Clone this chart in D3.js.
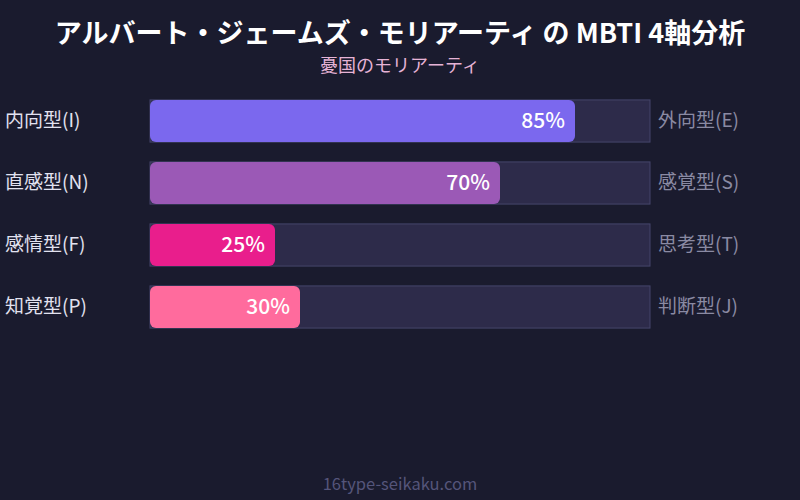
<!DOCTYPE html>
<html><head><meta charset="utf-8">
<script src="https://cdn.jsdelivr.net/npm/d3@7"></script>
<style>html,body{margin:0;padding:0;background:#1a1b2e;}svg{display:block;font-family:"Noto Sans CJK JP","Noto Sans",sans-serif;}</style>
</head><body>
<svg id="chart" width="800" height="500"></svg>
<script>
const leftLabels = ["内向型(I)", "直感型(N)", "感情型(F)", "知覚型(P)"];
const rightLabels = ["外向型(E)", "感覚型(S)", "思考型(T)", "判断型(J)"];
const values = [85, 70, 25, 30];
const colors = ["#7b68ee", "#9b59b6", "#e91e8c", "#ff6b9d"];
const title = "アルバート・ジェームズ・モリアーティ の MBTI 4軸分析";
const subtitle = "憂国のモリアーティ";
const footer = "16type-seikaku.com";

const svg = d3.select("#chart");
svg.append("rect").attr("width", 800).attr("height", 500).attr("fill", "#1a1b2e");

const x = d3.scaleLinear().domain([0, 100]).range([150, 650]);
const y = d3.scaleBand().domain(d3.range(leftLabels.length)).range([90, 338]).paddingInner(0.32).paddingOuter(0.16);

svg.append("text").attr("x", 400).attr("y", 43).attr("text-anchor", "middle")
  .attr("fill", "#ffffff").attr("font-size", 27).attr("font-weight", "bold").text(title);
svg.append("text").attr("x", 400).attr("y", 72).attr("text-anchor", "middle")
  .attr("fill", "#e6b3d6").attr("font-size", 18).text(subtitle);

const rows = svg.selectAll("g.row").data(values).join("g").attr("class", "row");

rows.append("rect")
  .attr("x", x(0)).attr("y", (d, i) => y(i))
  .attr("width", x(100) - x(0)).attr("height", y.bandwidth())
  .attr("fill", "#2d2b4a").attr("stroke", "#45456a").attr("stroke-width", 1);

rows.append("rect")
  .attr("x", x(0)).attr("y", (d, i) => y(i))
  .attr("width", d => x(d) - x(0)).attr("height", y.bandwidth())
  .attr("rx", 6).attr("ry", 6)
  .attr("fill", (d, i) => colors[i]);

rows.append("text")
  .attr("x", d => x(d) - 10).attr("y", (d, i) => y(i) + y.bandwidth() / 2)
  .attr("dy", "0.32em").attr("text-anchor", "end")
  .attr("fill", "#ffffff").attr("font-size", 21).attr("font-weight", 500)
  .text(d => d + "%");

rows.append("text")
  .attr("x", 5).attr("y", (d, i) => y(i) + y.bandwidth() / 2)
  .attr("dy", "0.3em").attr("fill", "#e2e2f0").attr("font-size", 19)
  .text((d, i) => leftLabels[i]);

rows.append("text")
  .attr("x", 658).attr("y", (d, i) => y(i) + y.bandwidth() / 2)
  .attr("dy", "0.3em").attr("fill", "#8a8aa3").attr("font-size", 19)
  .text((d, i) => rightLabels[i]);

svg.append("text").attr("x", 400).attr("y", 490).attr("text-anchor", "middle")
  .attr("fill", "#55557a").attr("font-size", 16.5).text(footer);
</script>
</body></html>
